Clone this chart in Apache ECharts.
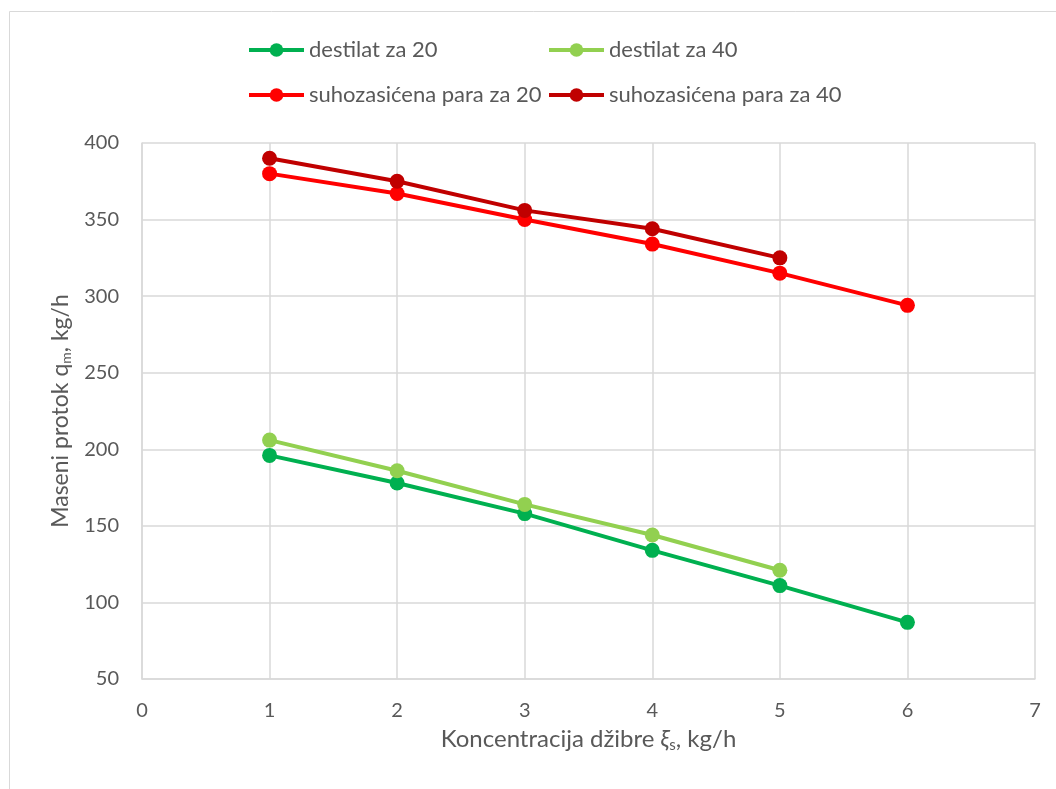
<!DOCTYPE html>
<html><head><meta charset="utf-8">
<script src="https://cdn.jsdelivr.net/npm/echarts@6/dist/echarts.min.js"></script>
<style>html,body{margin:0;padding:0;background:#fff}#c{width:1056px;height:789px}</style>
</head><body><div id="c"></div>
<script>
const xValues = [1, 2, 3, 4, 5, 6];
const destilat20 = [196, 178, 158, 134, 111, 87];
const destilat40 = [206, 186, 164, 144, 121];
const suho20 = [380, 367, 350, 334, 315, 294];
const suho40 = [390, 375, 356, 344, 325];
const seriesNames = ['destilat za 20', 'destilat za 40', 'suhozasićena para za 20', 'suhozasićena para za 40'];
const seriesColors = ['#00B050', '#92D050', '#FF0000', '#C00000'];
const seriesData = [destilat20, destilat40, suho20, suho40];

const FONT = 'Lato, "Open Sans", sans-serif';
const txt = '#595959';
const chart = echarts.init(document.getElementById('c'));
const legendPos = [[242, 34], [542, 34], [242, 79], [542, 79]];
chart.setOption({
  animation: false,
  textStyle: {fontFamily: FONT},
  graphic: [{type: 'rect', shape: {x: 9.5, y: 11.5, width: 1100, height: 900}, style: {fill: 'none', stroke: '#d9d9d9', lineWidth: 1}}],
  legend: seriesNames.map((n, i) => ({
    data: [n], left: legendPos[i][0], top: legendPos[i][1],
    itemWidth: 55, itemHeight: 17, itemGap: 4,
    lineStyle: {width: 4},
    textStyle: {fontFamily: FONT, fontSize: 22, color: txt}
  })),
  grid: {left: 142, right: 21, top: 143, bottom: 110, containLabel: false},
  xAxis: {
    type: 'value', min: 0, max: 7, interval: 1,
    name: 'Koncentracija džibre {it|ξ}{sub|s}, kg/h', nameLocation: 'middle', nameGap: 47,
    nameTextStyle: {fontFamily: FONT, fontSize: 24, color: txt,
      rich: {it: {fontFamily: FONT, fontSize: 24, color: txt, fontStyle: 'italic'},
             sub: {fontFamily: FONT, fontSize: 15, color: txt, verticalAlign: 'bottom', padding: [12, 0, 0, 0]}}},
    axisLine: {lineStyle: {color: '#d9d9d9', width: 1.5}},
    axisTick: {show: false},
    axisLabel: {fontFamily: FONT, fontSize: 20, color: txt, margin: 22},
    splitLine: {show: true, lineStyle: {color: '#d9d9d9', width: 1.5}}
  },
  yAxis: {
    type: 'value', min: 50, max: 400, interval: 50,
    name: 'Maseni protok q{sub|m}, kg/h', nameLocation: 'middle', nameGap: 66, nameRotate: 90,
    nameTextStyle: {fontFamily: FONT, fontSize: 23, color: txt,
      rich: {sub: {fontFamily: FONT, fontSize: 14, color: txt, verticalAlign: 'bottom', padding: [12, 0, 0, 0]}}},
    axisLine: {show: true, lineStyle: {color: '#d9d9d9', width: 1.5}},
    axisTick: {show: false},
    axisLabel: {fontFamily: FONT, fontSize: 20, color: txt, margin: 23},
    splitLine: {show: true, lineStyle: {color: '#d9d9d9', width: 1.5}}
  },
  series: seriesNames.map((n, i) => ({
    name: n, type: 'line',
    data: seriesData[i].map((v, j) => [xValues[j], v]),
    symbol: 'circle', symbolSize: 15,
    itemStyle: {color: seriesColors[i]},
    lineStyle: {color: seriesColors[i], width: 4}
  }))
});
</script></body></html>
